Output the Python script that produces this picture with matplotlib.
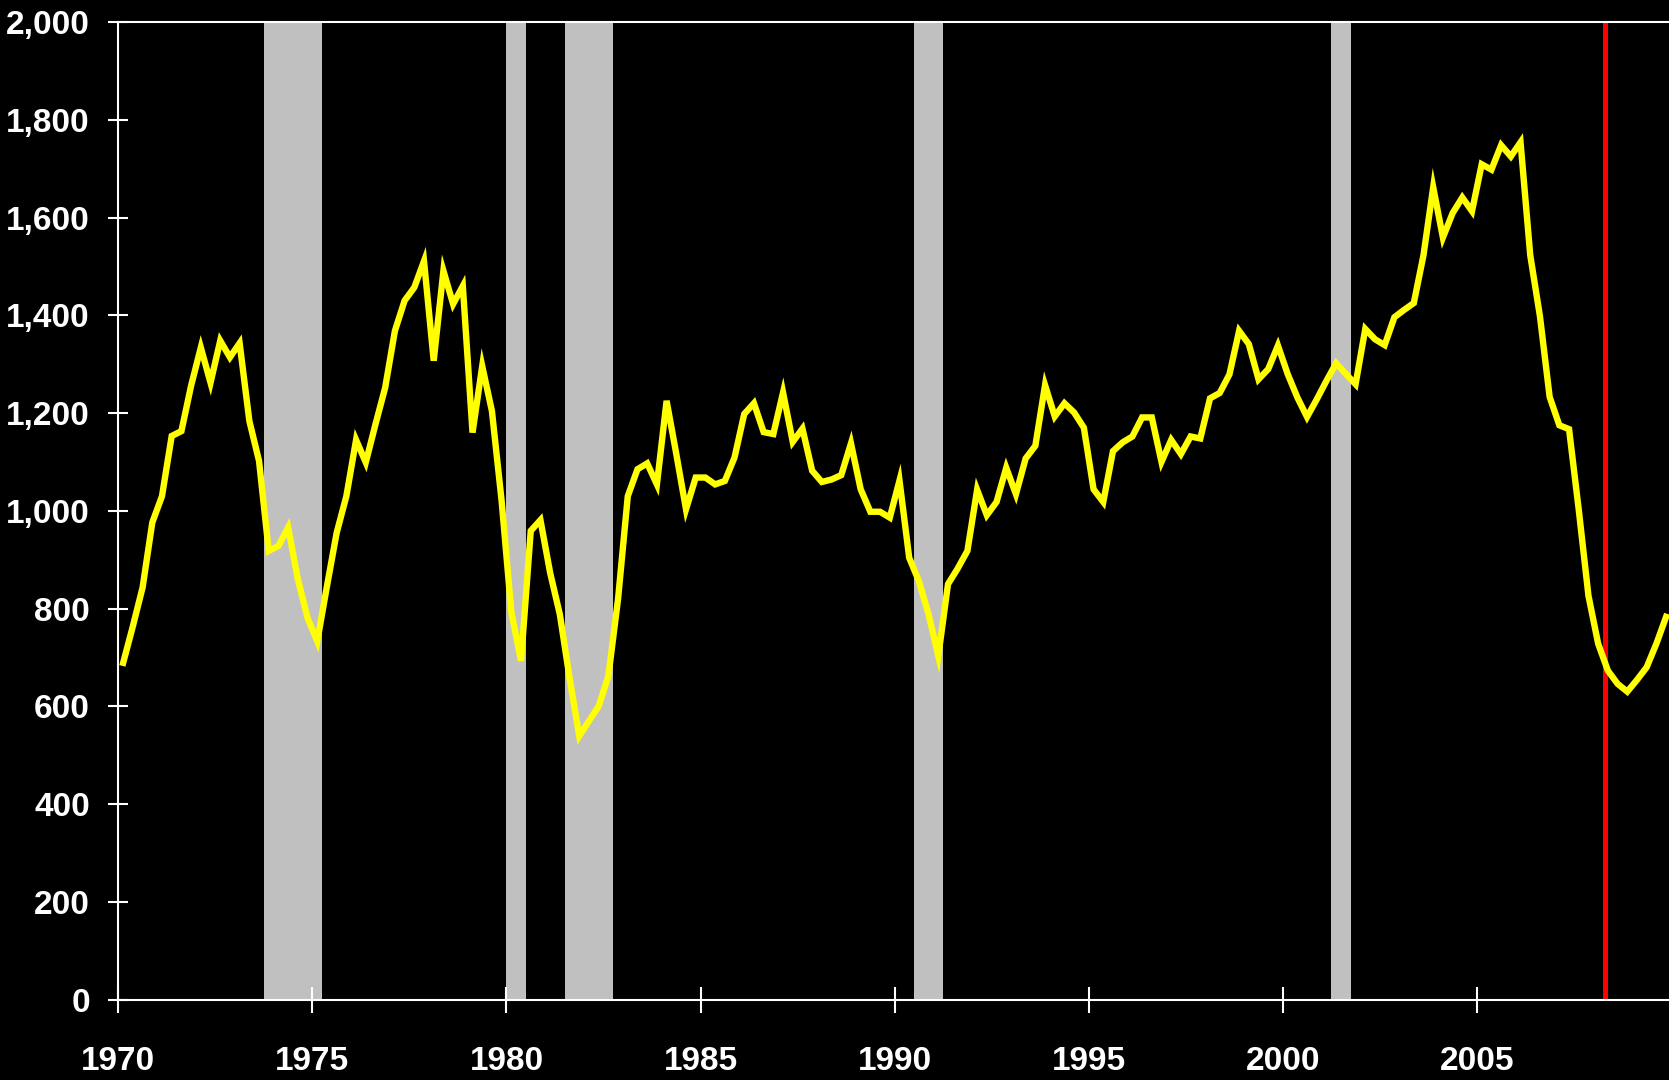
import numpy as np
import matplotlib
matplotlib.use('Agg')
import matplotlib.pyplot as plt
from matplotlib import font_manager
from matplotlib.ticker import FuncFormatter, MultipleLocator

# quarterly values, thousands, 1970Q1 .. 2009Q4
starts_1970s = [689, 764, 843, 976, 1030, 1153, 1163, 1256, 1334, 1262,
                1348, 1314, 1343, 1184, 1102, 918, 928, 966, 860, 781,
                733, 846, 955, 1030, 1145, 1099, 1177, 1252, 1368, 1430,
                1457, 1511, 1307, 1491, 1423, 1460, 1160, 1296, 1204, 1020]
starts_1980s = [793, 693, 959, 981, 873, 788, 658, 539, 570, 600,
                662, 820, 1030, 1085, 1097, 1054, 1225, 1116, 1003, 1068,
                1068, 1054, 1061, 1109, 1198, 1220, 1161, 1157, 1242, 1141,
                1168, 1082, 1059, 1064, 1073, 1138, 1044, 998, 998, 986]
starts_1990s = [1062, 904, 856, 788, 703, 850, 882, 918, 1043, 991,
                1018, 1088, 1034, 1107, 1133, 1257, 1193, 1220, 1201, 1170,
                1044, 1018, 1122, 1140, 1152, 1191, 1191, 1100, 1145, 1116,
                1152, 1148, 1230, 1241, 1279, 1368, 1341, 1269, 1290, 1338]
starts_2000s = [1280, 1232, 1192, 1228, 1266, 1302, 1280, 1259, 1372, 1351,
                1339, 1396, 1411, 1425, 1523, 1662, 1559, 1609, 1641, 1613,
                1709, 1698, 1748, 1725, 1754, 1523, 1398, 1233, 1175, 1167,
                1002, 826, 728, 673, 646, 630, 654, 680, 728, 783]

# recessions (shaded)
rec_start = [1973.75, 1980.0, 1981.5, 1990.5, 2001.25]
rec_end = [1975.25, 1980.5, 1982.75, 1991.25, 2001.75]

marker_year = 2008.3
first_year = 1970

values = starts_1970s + starts_1980s + starts_1990s + starts_2000s
quarters = first_year + (np.arange(len(values)) + 0.5) / 4

# Arial Narrow look-alike if installed, else Liberation Sans
names = {f.name for f in font_manager.fontManager.ttflist}
if 'Liberation Sans Narrow' in names:
    fam, fsize = 'Liberation Sans Narrow', 26
else:
    fam, fsize = 'Liberation Sans', 24
plt.rcParams['font.family'] = [fam, 'DejaVu Sans']

fig = plt.figure(figsize=(16.69, 10.8), dpi=100, facecolor='black')
ax = fig.add_axes([0.0709, 0.0745, 0.9291, 0.9051], facecolor='black')

for a, b in zip(rec_start, rec_end):
    ax.axvspan(a, b, color='#C0C0C0', lw=0, zorder=1)

ax.axvline(marker_year, color='#FF0000', lw=3.6, zorder=2)
ax.plot(quarters, values, color='#FFFF00', lw=4.6, solid_joinstyle='miter', zorder=3)

ax.set_xlim(1970, 2009.95)
ax.set_ylim(0, 2000)
ax.xaxis.set_major_locator(MultipleLocator(5))
ax.yaxis.set_major_locator(MultipleLocator(200))
ax.yaxis.set_major_formatter(FuncFormatter(lambda v, p: f'{v:,.0f}'))

for s in ['left', 'bottom', 'top']:
    ax.spines[s].set_color('white')
    ax.spines[s].set_linewidth(1.5)
ax.spines['right'].set_visible(False)

ax.tick_params(axis='x', direction='inout', length=19, width=1.5, colors='white',
               labelsize=fsize, pad=24)
ax.tick_params(axis='y', direction='inout', length=15, width=1.5, colors='white',
               labelsize=fsize, pad=13)
for lab in ax.get_xticklabels() + ax.get_yticklabels():
    lab.set_fontweight('bold')

fig.savefig('out.png', dpi=100, facecolor='black')
